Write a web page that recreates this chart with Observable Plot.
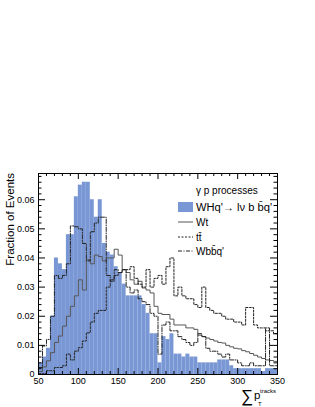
<!DOCTYPE html>
<html><head><meta charset="utf-8">
<script src="https://cdn.jsdelivr.net/npm/d3@7"></script>
<script src="https://cdn.jsdelivr.net/npm/@observablehq/plot@0.6"></script>
<style>
html,body{margin:0;padding:0;background:#fff;}
svg{font-family:"Liberation Sans",Arial,Helvetica,sans-serif;}
</style>
</head><body><div id="chart"></div>
<script>
// bin low edges (GeV), bin width 5
const binLow = [50,55,60,65,70,75,80,85,90,95,100,105,110,115,120,125,130,135,140,145,
  150,155,160,165,170,175,180,185,190,195,200,205,210,215,220,225,230,235,240,245,
  250,255,260,265,270,275,280,285,290,295,300,305,310,315,320,325,330,335,340,345];
const binWidth = 5;

// WHq' -> l nu b bbar q'  (filled)
const whq = [0.004,0.006,0.009,0.020,0.040,0.038,0.036,0.048,0.048,0.061,
  0.065,0.066,0.066,0.060,0.054,0.060,0.045,0.042,0.041,0.037,
  0.035,0.031,0.027,0.027,0.027,0.027,0.024,0.021,0.014,0.014,
  0.004,0.013,0.012,0.014,0.007,0.007,0.006,0.007,0.006,0.006,
  0.004,0.004,0.004,0.004,0.004,0.005,0.005,0.005,0.003,0.002,
  0.002,0.002,0.002,0.002,0.002,0.002,0.001,0.002,0.002,0.002];
// Wt (solid)
const wt = [0.001,0.0026,0.0047,0.0075,0.011,0.0132,0.0166,0.020,0.0234,0.027,
  0.0325,0.029,0.0394,0.038,0.041,0.0405,0.039,0.040,0.040,0.043,
  0.041,0.036,0.035,0.0325,0.031,0.032,0.0297,0.029,0.028,0.0234,
  0.021,0.0206,0.0206,0.019,0.017,0.017,0.017,0.016,0.016,0.0155,
  0.0135,0.013,0.0125,0.012,0.0115,0.011,0.0108,0.010,0.0095,0.009,
  0.0088,0.0082,0.0078,0.0072,0.0066,0.006,0.0055,0.005,0.0048,0.0045];
// ttbar (dotted)
const ttbar = [0.0003,0.0003,0.0013,0.0013,0.0024,0.0024,0.003,0.007,0.005,0.008,
  0.0092,0.0115,0.0143,0.018,0.021,0.022,0.022,0.030,0.0325,0.034,
  0.035,0.036,0.036,0.037,0.033,0.031,0.030,0.036,0.030,0.033,
  0.034,0.031,0.037,0.040,0.027,0.030,0.027,0.026,0.026,0.024,
  0.023,0.030,0.023,0.022,0.021,0.021,0.020,0.019,0.019,0.018,
  0.018,0.017,0.023,0.023,0.017,0.016,0.016,0.015,0.015,0.014];
// W b bbar q' (dash-dot)
const wbbq = [0.0024,0.0098,0.012,0.020,0.034,0.033,0.034,0.038,0.051,0.0507,
  0.050,0.045,0.039,0.049,0.052,0.054,0.054,0.034,0.032,0.036,
  0.035,0.036,0.030,0.028,0.029,0.026,0.025,0.024,0.021,0.020,
  0.007,0.017,0.018,0.015,0.015,0.013,0.012,0.011,0.010,0.011,
  0.014,0.013,0.009,0.008,0.008,0.007,0.006,0.007,0.005,0.005,
  0.004,0.003,0.003,0.004,0.003,0.003,0.003,0.016,0.003,0.003];

const xMajor = [50,100,150,200,250,300,350];
const xMinor = [60,70,80,90,110,120,130,140,160,170,180,190,210,220,230,240,260,270,280,290,310,320,330,340];
const yMajor = [0,0.01,0.02,0.03,0.04,0.05,0.06];
const yMinor = [0.002,0.004,0.006,0.008,0.012,0.014,0.016,0.018,0.022,0.024,0.026,0.028,0.032,0.034,0.036,0.038,0.042,0.044,0.046,0.048,0.052,0.054,0.056,0.058,0.062,0.064,0.066,0.068];
const xDomain = [50,350];
const yDomain = [0,0.069];

const W = 315, H = 407;
const mL = 38, mR = 38, mT = 173, mB = 33;
const pw = W - mL - mR, ph = H - mT - mB;

const bars = binLow.map((x,i) => ({x1:x, x2:x+binWidth, y:whq[i]}));
function steps(vals){
  const pts = binLow.map((x,i)=>({x, y: vals[i]}));
  pts.push({x: binLow[binLow.length-1]+binWidth, y: vals[vals.length-1]});
  return pts;
}

const blue = "rgb(121,151,212)";

const plot = Plot.plot({
  width: W, height: H,
  marginLeft: mL, marginRight: mR, marginTop: mT, marginBottom: mB,
  style: {fontSize: "9px", fontFamily: "Liberation Sans, Arial, sans-serif", background: "#fff"},
  x: {domain: xDomain, label: null},
  y: {domain: yDomain, label: null},
  marks: [
    Plot.rectY(bars, {x1:"x1", x2:"x2", y:"y", fill: blue, inset: 0}),
    Plot.line(steps(wt), {x:"x", y:"y", curve:"step-after", stroke:"#555", strokeWidth:1}),
    Plot.line(steps(ttbar), {x:"x", y:"y", curve:"step-after", stroke:"#222", strokeWidth:1, strokeDasharray:"2,1.5"}),
    Plot.line(steps(wbbq), {x:"x", y:"y", curve:"step-after", stroke:"#222", strokeWidth:1, strokeDasharray:"4,1.5,1,1.5"}),
    Plot.frame({stroke:"#000", strokeWidth:1}),
    Plot.tickX(xMajor, {x: d=>d, insetTop: ph-6, stroke:"#000"}),
    Plot.tickX(xMinor, {x: d=>d, insetTop: ph-3, stroke:"#000"}),
    Plot.tickX(xMajor, {x: d=>d, insetBottom: ph-6, stroke:"#000"}),
    Plot.tickX(xMinor, {x: d=>d, insetBottom: ph-3, stroke:"#000"}),
    Plot.tickY(yMajor, {y: d=>d, insetRight: pw-7, stroke:"#000"}),
    Plot.tickY(yMinor, {y: d=>d, insetRight: pw-3.5, stroke:"#000"}),
    Plot.tickY(yMajor, {y: d=>d, insetLeft: pw-7, stroke:"#000"}),
    Plot.tickY(yMinor, {y: d=>d, insetLeft: pw-3.5, stroke:"#000"}),
    Plot.axisX({ticks: xMajor, tickSize: 0, tickPadding: 3, label: null, tickFormat: d=>String(d)}),
    Plot.axisY({ticks: yMajor, tickSize: 0, tickPadding: 4, label: null, tickFormat: d=> d===0 ? "0" : d.toFixed(2)})
  ]
});
document.getElementById("chart").appendChild(plot);

const svg = d3.select(plot);
svg.append("text")
  .attr("transform", `translate(13.5,${mT}) rotate(-90)`)
  .attr("text-anchor","end").attr("font-size","11.5px").attr("fill","#000")
  .text("Fraction of Events");
const xt = svg.append("g").attr("fill","#000").attr("text-anchor","start");
xt.append("text").attr("x",241).attr("y",402).attr("font-size","17px").text("\u2211");
xt.append("text").attr("x",254).attr("y",399).attr("font-size","11.5px").text("p");
xt.append("text").attr("x",258).attr("y",406).attr("font-size","6px").text("T");
xt.append("text").attr("x",260).attr("y",393).attr("font-size","6px").text("tracks");

const lg = svg.append("g").attr("fill","#000").attr("font-size","10px").attr("text-anchor","start");
const lx = 178, tx = 196;
lg.append("text").attr("x",tx).attr("y",194).text("\u03B3 p processes");
lg.append("rect").attr("x",lx).attr("y",202).attr("width",15).attr("height",10).attr("fill",blue);
lg.append("text").attr("x",tx).attr("y",211).attr("textLength",76).attr("lengthAdjust","spacingAndGlyphs").text("WHq'\u2192 l\u03BD b b\u0304q'");
lg.append("line").attr("x1",lx).attr("x2",lx+15).attr("y1",222).attr("y2",222).attr("stroke","#555");
lg.append("text").attr("x",tx).attr("y",226).text("Wt");
lg.append("line").attr("x1",lx).attr("x2",lx+15).attr("y1",237).attr("y2",237).attr("stroke","#222").attr("stroke-dasharray","2,1.5");
lg.append("text").attr("x",tx).attr("y",241).text("tt\u0304");
lg.append("line").attr("x1",lx).attr("x2",lx+15).attr("y1",251).attr("y2",251).attr("stroke","#222").attr("stroke-dasharray","4,1.5,1,1.5");
lg.append("text").attr("x",tx).attr("y",255).text("Wbb\u0304q'");
</script>
</body></html>
